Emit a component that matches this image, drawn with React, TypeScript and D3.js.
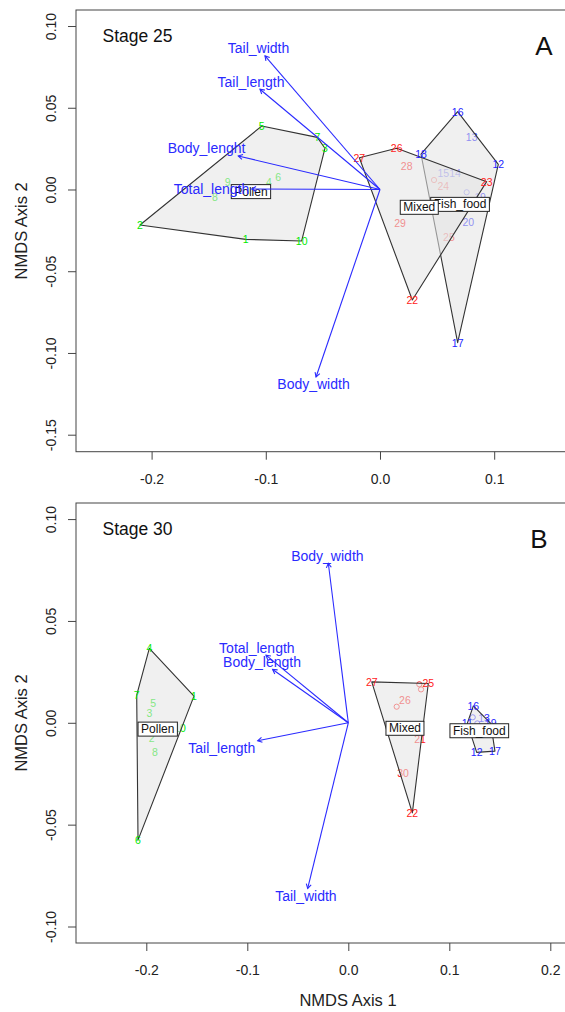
import React, { useEffect, useRef } from "react";
import * as d3 from "d3";

type Pt = { id: string; x: number; y: number; dot?: boolean };
type Arrow = { name: string; x: number; y: number };
type Centroid = { group: string; x: number; y: number };

// ---- Stage 25 ----
const pollen25: Pt[] = [
  { id: "1", x: -0.1176, y: -0.0305 },
  { id: "2", x: -0.2102, y: -0.0217 },
  { id: "3", x: -0.0482, y: 0.0252 },
  { id: "4", x: -0.0972, y: 0.0048 },
  { id: "5", x: -0.1036, y: 0.0388 },
  { id: "6", x: -0.0891, y: 0.0078 },
  { id: "7", x: -0.0549, y: 0.0319 },
  { id: "8", x: -0.1445, y: -0.0048 },
  { id: "9", x: -0.1334, y: 0.0048 },
  { id: "10", x: -0.0686, y: -0.0315 },
];
const fish25: Pt[] = [
  { id: "11", x: 0.0759, y: -0.0017, dot: true },
  { id: "12", x: 0.1036, y: 0.0154 },
  { id: "13", x: 0.0803, y: 0.0319 },
  { id: "14", x: 0.0657, y: 0.0103 },
  { id: "15", x: 0.0554, y: 0.0099 },
  { id: "16", x: 0.068, y: 0.0476 },
  { id: "17", x: 0.068, y: -0.0937 },
  { id: "18", x: 0.0359, y: 0.0217 },
  { id: "19", x: 0.0876, y: -0.0044 },
  { id: "20", x: 0.0773, y: -0.0201 },
];
const mixed25: Pt[] = [
  { id: "21", x: 0.0473, y: 0.0058, dot: true },
  { id: "22", x: 0.0283, y: -0.0676 },
  { id: "23", x: 0.0934, y: 0.0048 },
  { id: "24", x: 0.0554, y: 0.0023 },
  { id: "25", x: 0.0604, y: -0.0289 },
  { id: "26", x: 0.0146, y: 0.0252 },
  { id: "27", x: -0.0181, y: 0.0194 },
  { id: "28", x: 0.0234, y: 0.0144 },
  { id: "29", x: 0.0175, y: -0.0203 },
  { id: "30", x: 0.0344, y: -0.0109, dot: true },
];
const centroids25: Centroid[] = [
  { group: "Pollen", x: -0.113, y: -0.0013 },
  { group: "Fish_food", x: 0.0701, y: -0.0091 },
  { group: "Mixed", x: 0.0344, y: -0.0109 },
];
const arrows25: Arrow[] = [
  { name: "Tail_width", x: -0.1007, y: 0.0817 },
  { name: "Tail_length", x: -0.1051, y: 0.0613 },
  { name: "Body_lenght", x: -0.1241, y: 0.0205 },
  { name: "Total_length", x: -0.1123, y: 0.0003 },
  { name: "Body_width", x: -0.056, y: -0.1147 },
];
const xTicks25 = [-0.2, -0.1, 0.0, 0.1];
const yTicks25 = [0.1, 0.05, 0.0, -0.05, -0.1, -0.15];

// ---- Stage 30 ----
const pollen30: Pt[] = [
  { id: "1", x: -0.1528, y: 0.0131 },
  { id: "2", x: -0.1947, y: -0.0077 },
  { id: "3", x: -0.197, y: 0.0049 },
  { id: "4", x: -0.197, y: 0.0365 },
  { id: "5", x: -0.1931, y: 0.0095 },
  { id: "6", x: -0.2082, y: -0.0576 },
  { id: "7", x: -0.2095, y: 0.0136 },
  { id: "8", x: -0.1914, y: -0.0142 },
  { id: "9", x: -0.1887, y: -0.0031, dot: true },
  { id: "10", x: -0.1665, y: -0.0027 },
];
const fish30: Pt[] = [
  { id: "11", x: 0.1178, y: -0.0003 },
  { id: "12", x: 0.1271, y: -0.0145 },
  { id: "13", x: 0.1344, y: 0.0026 },
  { id: "14", x: 0.1232, y: 0.0027, dot: true },
  { id: "15", x: 0.1277, y: -0.0003, dot: true },
  { id: "16", x: 0.1238, y: 0.0083 },
  { id: "17", x: 0.1452, y: -0.0139 },
  { id: "18", x: 0.1297, y: -0.0039, dot: true },
  { id: "19", x: 0.141, y: -0.0003 },
  { id: "20", x: 0.1334, y: -0.006, dot: true },
];
const mixed30: Pt[] = [
  { id: "21", x: 0.071, y: -0.008 },
  { id: "22", x: 0.0634, y: -0.0442 },
  { id: "23", x: 0.0703, y: 0.0189, dot: true },
  { id: "24", x: 0.072, y: 0.0164, dot: true },
  { id: "25", x: 0.0792, y: 0.0193 },
  { id: "26", x: 0.0561, y: 0.0111 },
  { id: "27", x: 0.0232, y: 0.0201 },
  { id: "28", x: 0.0479, y: 0.0079, dot: true },
  { id: "29", x: 0.0561, y: -0.0027, dot: true },
  { id: "30", x: 0.0542, y: -0.0248 },
];
const centroids30: Centroid[] = [
  { group: "Pollen", x: -0.1887, y: -0.0031 },
  { group: "Fish_food", x: 0.1297, y: -0.0039 },
  { group: "Mixed", x: 0.0561, y: -0.0027 },
];
const arrows30: Arrow[] = [
  { name: "Body_width", x: -0.0198, y: 0.0783 },
  { name: "Total_length", x: -0.0815, y: 0.0332 },
  { name: "Body_length", x: -0.0749, y: 0.0262 },
  { name: "Tail_length", x: -0.0897, y: -0.0088 },
  { name: "Tail_width", x: -0.0402, y: -0.0813 },
];
const xTicks30 = [-0.2, -0.1, 0.0, 0.1, 0.2];
const yTicks30 = [0.1, 0.05, 0.0, -0.05, -0.1];

const FONT = "'Liberation Sans', Arial, Helvetica, sans-serif";
const groupColor: Record<string, string> = { Pollen: "#00ea00", Fish_food: "#2424ff", Mixed: "#ff1a1a" };
const arrowColor = "#2a2aff";

let ctx: CanvasRenderingContext2D | null = null;
function textWidth(s: string, size: number) {
  if (!ctx) ctx = document.createElement("canvas").getContext("2d");
  if (!ctx) return s.length * size * 0.55;
  ctx.font = `${size}px ${FONT}`;
  return ctx.measureText(s).width;
}

function drawPanel(svg: any, p: any) {
  const L = 76, R = 590;
  const x = d3.scaleLinear().domain(p.xlim).range([L, R]);
  const y = d3.scaleLinear().domain(p.ylim).range([p.bottom, p.top]);
  const g = svg.append("g").attr("font-family", FONT);

  // axes
  const ax = g.append("g").attr("transform", `translate(0,${p.bottom})`)
    .call(d3.axisBottom(x).tickValues(p.xTicks).tickSize(8).tickPadding(14).tickFormat((d: any) => (+d).toFixed(1)));
  ax.select(".domain").remove();
  ax.attr("color", "#444").attr("font-size", 14).attr("font-family", FONT);
  ax.selectAll("text").attr("fill", "#222");

  const ay = g.append("g").attr("transform", `translate(${L},0)`)
    .call(d3.axisLeft(y).tickValues(p.yTicks).tickSize(8).tickFormat((d: any) => (+d).toFixed(2)));
  ay.select(".domain").remove();
  ay.attr("color", "#444").attr("font-size", 14).attr("font-family", FONT);
  ay.selectAll("text").attr("fill", "#222").attr("x", null).attr("dy", null)
    .attr("text-anchor", "middle").attr("transform", "translate(-20,0) rotate(-90)");

  g.append("rect").attr("x", L).attr("y", p.top).attr("width", R - L).attr("height", p.bottom - p.top)
    .attr("fill", "none").attr("stroke", "#444").attr("stroke-width", 1);

  g.append("text").attr("transform", `translate(27,${(p.top + p.bottom) / 2}) rotate(-90)`)
    .attr("text-anchor", "middle").attr("font-size", 16.5).attr("fill", "#222").text("NMDS Axis 2");
  if (p.xTitle) {
    g.append("text").attr("x", (L + 620) / 2).attr("y", p.bottom + 63).attr("text-anchor", "middle")
      .attr("font-size", 16.5).attr("fill", "#222").text("NMDS Axis 1");
  }

  // hull vertices per group
  const groups = p.groups.map((gr: any) => {
    const pix = gr.pts.map((d: Pt) => [x(d.x), y(d.y)] as [number, number]);
    const hull = d3.polygonHull(pix) || [];
    const onHull = gr.pts.map((d: Pt, i: number) => hull.some((h) => h[0] === pix[i][0] && h[1] === pix[i][1]));
    return { ...gr, pix, hull, onHull };
  });

  const drawLabels = (layer: any, vertex: boolean) => {
    groups.forEach((gr: any) => {
      const pts = gr.pts.filter((_: Pt, i: number) => gr.onHull[i] === vertex);
      layer.selectAll(null).data(pts.filter((d: Pt) => !d.dot)).join("text")
        .attr("x", (d: Pt) => x(d.x)).attr("y", (d: Pt) => y(d.y))
        .attr("text-anchor", "middle").attr("dominant-baseline", "central")
        .attr("font-size", 10.5).attr("fill", groupColor[gr.name]).text((d: Pt) => d.id);
      layer.selectAll(null).data(pts.filter((d: Pt) => d.dot)).join("circle")
        .attr("cx", (d: Pt) => x(d.x)).attr("cy", (d: Pt) => y(d.y)).attr("r", 2.6)
        .attr("fill", "none").attr("stroke", groupColor[gr.name]).attr("stroke-width", 0.9);
    });
  };

  drawLabels(g.append("g"), false);

  // hulls (Pollen, Fish_food, Mixed)
  g.append("g").selectAll("path").data(groups).join("path")
    .attr("d", (gr: any) => d3.line()(gr.hull) + "Z")
    .attr("fill", "rgb(228,228,228)").attr("fill-opacity", 0.56)
    .attr("stroke", "#333").attr("stroke-width", 1.1).attr("stroke-linejoin", "round");

  drawLabels(g.append("g"), true);

  // group name boxes
  const boxes = g.append("g").selectAll("g").data(p.centroids).join("g")
    .attr("transform", (d: Centroid) => `translate(${x(d.x)},${y(d.y)})`);
  boxes.append("rect")
    .attr("x", (d: Centroid) => -(textWidth(d.group, 12) + 6) / 2).attr("y", -7)
    .attr("width", (d: Centroid) => textWidth(d.group, 12) + 6).attr("height", 14)
    .attr("fill", "white").attr("stroke", "#222").attr("stroke-width", 1);
  boxes.append("text").attr("text-anchor", "middle").attr("dominant-baseline", "central")
    .attr("font-size", 12).attr("fill", "#111").text((d: Centroid) => d.group);

  // envfit arrows
  const ox = x(0), oy = y(0);
  const ag = g.append("g");
  ag.selectAll("line").data(p.arrows).join("line")
    .attr("x1", ox).attr("y1", oy).attr("x2", (d: Arrow) => x(d.x)).attr("y2", (d: Arrow) => y(d.y))
    .attr("stroke", arrowColor).attr("stroke-width", 1.1);
  ag.selectAll("path").data(p.arrows).join("path")
    .attr("d", (d: Arrow) => {
      const hx = x(d.x), hy = y(d.y);
      const a = Math.atan2(hy - oy, hx - ox);
      const len = 5, sp = Math.PI / 6;
      const p1 = [hx - len * Math.cos(a - sp), hy - len * Math.sin(a - sp)];
      const p2 = [hx - len * Math.cos(a + sp), hy - len * Math.sin(a + sp)];
      return `M${p1[0]},${p1[1]}L${hx},${hy}L${p2[0]},${p2[1]}`;
    })
    .attr("fill", "none").attr("stroke", arrowColor).attr("stroke-width", 1.1);

  // label placement like vegan's ordiArrowTextXY
  const fs = 14, h = 10;
  ag.selectAll("text").data(p.arrows).join("text")
    .attr("transform", (d: Arrow) => {
      const hx = x(d.x), hy = y(d.y);
      const dx = hx - ox, dy = oy - hy;
      const w = textWidth(d.name, fs);
      const off = [Math.sign(dx) * (w / 2 + h / 4), 0.75 * h * Math.sign(dy)];
      const b = dy / dx;
      const move = off[1] / b;
      if (isFinite(move) && Math.abs(move) <= Math.abs(off[0])) off[0] = move;
      else off[1] = b * off[0];
      return `translate(${hx + off[0]},${hy - off[1]})`;
    })
    .attr("text-anchor", "middle").attr("dominant-baseline", "central")
    .attr("font-size", fs).attr("fill", arrowColor).text((d: Arrow) => d.name);

  g.append("text").attr("x", 102.5).attr("y", p.top + 32).attr("font-size", 17.5).attr("fill", "#111").text(p.stage);
  g.append("text").attr("x", p.letterX).attr("y", p.top + 45).attr("text-anchor", "middle")
    .attr("font-size", 26).attr("fill", "#111").text(p.letter);
}

export default function App() {
  const ref = useRef<SVGSVGElement>(null);

  useEffect(() => {
    if (!ref.current) return;
    const svg = d3.select(ref.current);
    svg.selectAll("*").remove();

    drawPanel(svg, {
      xlim: [-0.2662, 0.1839], ylim: [-0.1604, 0.1098], top: 10, bottom: 451.7,
      xTicks: xTicks25, yTicks: yTicks25,
      groups: [
        { name: "Pollen", pts: pollen25 },
        { name: "Fish_food", pts: fish25 },
        { name: "Mixed", pts: mixed25 },
      ],
      centroids: centroids25, arrows: arrows25, stage: "Stage 25", letter: "A", letterX: 544, xTitle: false,
    });
    drawPanel(svg, {
      xlim: [-0.2696, 0.2393], ylim: [-0.1081, 0.1079], top: 503, bottom: 943,
      xTicks: xTicks30, yTicks: yTicks30,
      groups: [
        { name: "Pollen", pts: pollen30 },
        { name: "Fish_food", pts: fish30 },
        { name: "Mixed", pts: mixed30 },
      ],
      centroids: centroids30, arrows: arrows30, stage: "Stage 30", letter: "B", letterX: 539, xTitle: true,
    });
  }, []);

  return (
    <svg ref={ref} width={565} height={1012}
      style={{ position: "absolute", left: 0, top: 0, background: "white", display: "block" }} />
  );
}
